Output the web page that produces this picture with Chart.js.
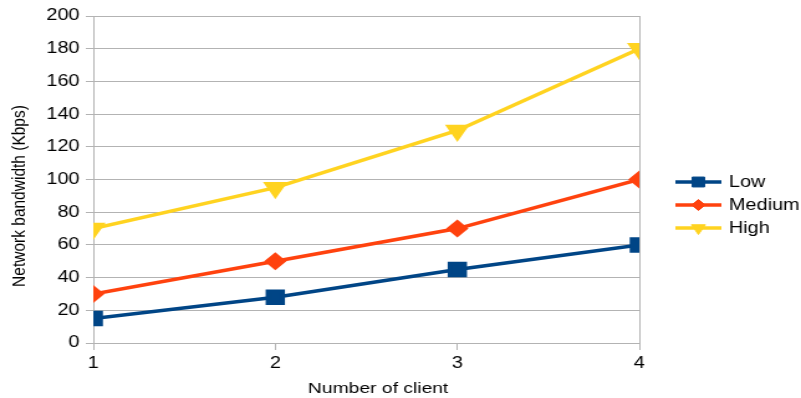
<!DOCTYPE html>
<html>
<head>
<meta charset="utf-8">
<script src="https://cdn.jsdelivr.net/npm/chart.js@4/dist/chart.umd.min.js"></script>
<style>
  html, body { margin: 0; padding: 0; background: #ffffff; overflow: hidden; }
  #page { width: 801px; height: 398px; overflow: hidden; }
  /* the chart is drawn narrow and widened to the page width */
  #wrap { width: 644px; height: 398px; transform: scaleX(1.2438); transform-origin: 0 0; }
</style>
</head>
<body>
<div id="page"><div id="wrap"><canvas id="c" width="644" height="398"></canvas></div></div>
<script>
// Bandwidth measurements per number of clients
const clients = [1, 2, 3, 4];
const lowValues = [15, 28, 45, 60];
const mediumValues = [30, 50, 70, 100];
const highValues = [70, 95, 130, 180];
const seriesNames = ['Low', 'Medium', 'High'];
const yTicks = [0, 20, 40, 60, 80, 100, 120, 140, 160, 180, 200];
const xTitle = 'Number of client';
const yTitle = 'Network bandwidth (Kbps)';

const FONT = '"Liberation Sans", Arial, sans-serif';
const GRID = '#b3b3b3';
const LINE_W = 3.5;

const toPoints = vals => vals.map((v, i) => ({ x: clients[i], y: v }));

// Axis titles and a legend (line segment + marker) at the right of the plot
const decorations = {
  id: 'decorations',
  afterDraw(chart) {
    const ctx = chart.ctx;
    ctx.save();
    ctx.fillStyle = '#000000';
    ctx.font = '15.5px ' + FONT;
    ctx.textAlign = 'center';
    ctx.textBaseline = 'middle';
    ctx.fillText(xTitle, 304, 389);
    ctx.translate(16, 196);
    ctx.rotate(-Math.PI / 2);
    ctx.fillText(yTitle, 0, 0);
    ctx.restore();

    const x0 = 543, x1 = 580, y0 = 182, gap = 23;
    chart.data.datasets.forEach((ds, i) => {
      const y = y0 + i * gap;
      ctx.save();
      ctx.strokeStyle = ds.borderColor;
      ctx.lineWidth = LINE_W;
      ctx.beginPath();
      ctx.moveTo(x0, y);
      ctx.lineTo(x1, y);
      ctx.stroke();
      ctx.fillStyle = ds.borderColor;
      ctx.lineWidth = 1;
      Chart.helpers.drawPoint(ctx, {
        pointStyle: ds.pointStyle,
        rotation: ds.pointRotation || 0,
        radius: ds.legendRadius,
        borderWidth: 1
      }, (x0 + x1) / 2, y);
      ctx.fillStyle = '#000000';
      ctx.font = '16px ' + FONT;
      ctx.textAlign = 'left';
      ctx.textBaseline = 'middle';
      ctx.fillText(ds.label, 586, y + 1);
      ctx.restore();
    });
  }
};

new Chart(document.getElementById('c'), {
  type: 'line',
  data: {
    datasets: [
      {
        label: seriesNames[0], data: toPoints(lowValues),
        borderColor: '#004586', backgroundColor: '#004586',
        borderWidth: LINE_W, pointStyle: 'rect', pointRadius: 8.5, pointHoverRadius: 8.5,
        legendRadius: 7
      },
      {
        label: seriesNames[1], data: toPoints(mediumValues),
        borderColor: '#ff420e', backgroundColor: '#ff420e',
        borderWidth: LINE_W, pointStyle: 'rectRot', pointRadius: 6.5, pointHoverRadius: 6.5,
        legendRadius: 5.5
      },
      {
        label: seriesNames[2], data: toPoints(highValues),
        borderColor: '#ffd320', backgroundColor: '#ffd320',
        borderWidth: LINE_W, pointStyle: 'triangle', pointRotation: 180, rotation: 180,
        pointRadius: 8, pointHoverRadius: 8, legendRadius: 6.5
      }
    ]
  },
  options: {
    responsive: false,
    animation: false,
    events: [],
    layout: { padding: { left: 0, right: 130, top: 16, bottom: 0 } },
    plugins: { legend: { display: false }, tooltip: { enabled: false } },
    scales: {
      x: {
        type: 'linear', min: 1, max: 4,
        afterFit(scale) { scale.height = 55; },
        ticks: { stepSize: 1, color: '#000000', font: { family: FONT, size: 16 }, padding: 4 },
        grid: {
          color: c => (c.tick && (c.tick.value === 1 || c.tick.value === 4)) ? GRID : 'rgba(0,0,0,0)',
          tickColor: GRID, tickLength: 7, lineWidth: 1
        },
        border: { display: true, color: GRID }
      },
      y: {
        min: 0, max: 200,
        afterFit(scale) { scale.width = 75; },
        afterBuildTicks(scale) { scale.ticks = yTicks.map(v => ({ value: v })); },
        ticks: { color: '#000000', font: { family: FONT, size: 16 }, padding: 5 },
        grid: { color: GRID, tickColor: GRID, tickLength: 6, lineWidth: 1 },
        border: { display: true, color: GRID }
      }
    }
  },
  plugins: [decorations]
});
</script>
</body>
</html>
